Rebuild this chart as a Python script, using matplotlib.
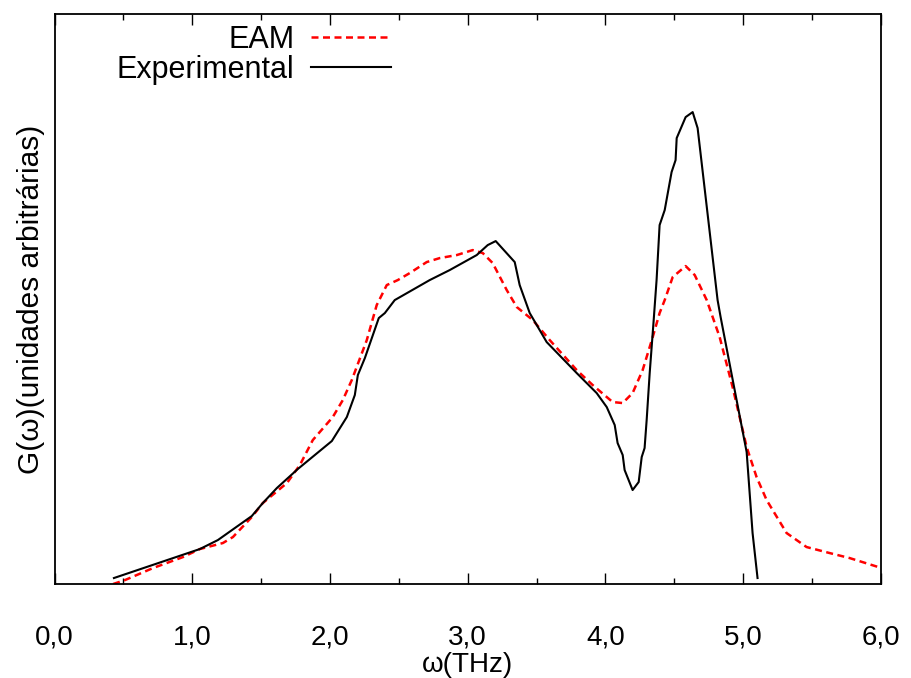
import numpy as np
import matplotlib.pyplot as plt
from matplotlib.ticker import MultipleLocator, FuncFormatter

# frequencia (THz) e G(w) em unidades arbitrarias
freq_exp = [0.431, 1.055, 1.186, 1.432, 1.512, 1.614, 1.766, 2.013, 2.122, 2.180,
            2.202, 2.253, 2.354, 2.398, 2.470, 2.724, 2.869, 3.065, 3.145, 3.203,
            3.341, 3.377, 3.450, 3.573, 3.791, 3.936, 4.009, 4.067, 4.088, 4.125,
            4.139, 4.197, 4.241, 4.263, 4.284, 4.299, 4.321, 4.350, 4.371, 4.393,
            4.430, 4.480, 4.509, 4.517, 4.582, 4.633, 4.669, 4.814, 4.836, 4.938,
            5.025, 5.068, 5.104]
g_exp = [0.06, 0.35, 0.44, 0.68, 0.81, 0.96, 1.15, 1.43, 1.67, 1.89,
         2.09, 2.26, 2.66, 2.71, 2.84, 3.04, 3.14, 3.29, 3.39, 3.43,
         3.22, 2.99, 2.71, 2.42, 2.11, 1.91, 1.77, 1.59, 1.41, 1.29,
         1.14, 0.94, 1.02, 1.27, 1.36, 1.64, 2.11, 2.64, 3.04, 3.59,
         3.74, 4.12, 4.24, 4.46, 4.67, 4.72, 4.56, 2.84, 2.67, 1.94,
         1.32, 0.51, 0.06]

freq_eam = [0.425, 0.512, 0.715, 0.933, 1.055, 1.222, 1.295, 1.432, 1.512, 1.687,
            1.781, 1.875, 2.020, 2.093, 2.158, 2.267, 2.339, 2.412, 2.492, 2.579,
            2.702, 2.797, 2.920, 3.036, 3.109, 3.181, 3.283, 3.356, 3.472, 3.595,
            3.791, 3.907, 4.052, 4.125, 4.197, 4.270, 4.343, 4.393, 4.430, 4.488,
            4.582, 4.648, 4.735, 4.829, 4.923, 5.025, 5.097, 5.170, 5.315, 5.460,
            5.627, 5.772, 6.004]
g_eam = [0.00, 0.04, 0.16, 0.27, 0.35, 0.41, 0.47, 0.67, 0.81, 1.01,
         1.19, 1.44, 1.67, 1.84, 2.04, 2.44, 2.79, 2.99, 3.04, 3.11,
         3.22, 3.26, 3.29, 3.34, 3.31, 3.21, 2.94, 2.77, 2.64, 2.44,
         2.14, 1.99, 1.82, 1.81, 1.91, 2.14, 2.47, 2.71, 2.84, 3.07,
         3.18, 3.09, 2.84, 2.47, 1.97, 1.37, 1.07, 0.84, 0.51, 0.37,
         0.31, 0.26, 0.16]

plt.rcParams['font.family'] = ['Liberation Sans', 'DejaVu Sans']

fig = plt.figure(figsize=(9.11, 6.78), dpi=100)
ax = fig.add_axes([0.0599, 0.1386, 0.9071, 0.8406])

ax.plot(freq_eam, g_eam, color='red', lw=1.8, dashes=(2.8, 1.8), label='EAM')
ax.plot(freq_exp, g_exp, color='black', lw=1.5, label='Experimental')

ax.set_xlim(0, 6)
ax.set_ylim(0, 5.70)

ax.xaxis.set_major_locator(MultipleLocator(1.0))
ax.xaxis.set_minor_locator(MultipleLocator(0.5))
ax.xaxis.set_major_formatter(FuncFormatter(lambda v, p: f"{v:.1f}".replace('.', ',')))
ax.tick_params(axis='x', which='both', direction='in', top=True, labelsize=20, pad=29, width=1.0)
ax.tick_params(axis='x', which='major', length=8)
ax.tick_params(axis='x', which='minor', length=4)
ax.tick_params(axis='y', left=False, labelleft=False)
for s in ax.spines.values():
    s.set_linewidth(1.3)

ax.set_xlabel(u'\u03c9(THz)', fontsize=20, labelpad=1)
ax.set_ylabel(u'G(\u03c9)(unidades arbitr\u00e1rias)', fontsize=21.5, labelpad=7)

ax.legend(loc='upper left', bbox_to_anchor=(0.057, 1.008), frameon=False, markerfirst=False,
          fontsize=22, handlelength=2.6, handletextpad=0.55, labelspacing=0.0, borderaxespad=0.1)

fig.savefig('out.png', dpi=100)
